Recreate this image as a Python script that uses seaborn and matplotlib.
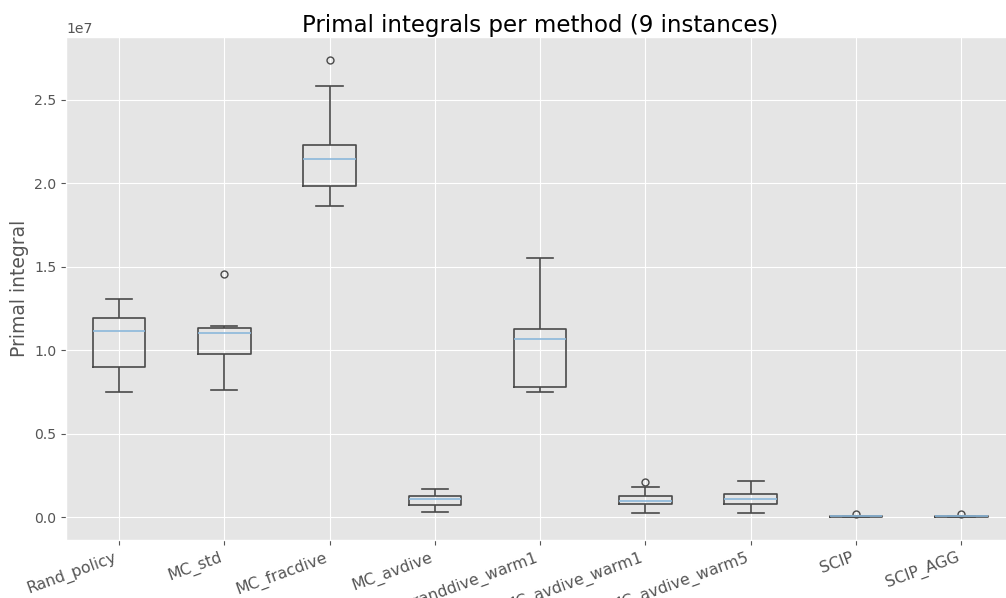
import numpy as np
import pandas as pd
import matplotlib
matplotlib.use("Agg")
import matplotlib.pyplot as plt
import seaborn as sns

# Primal integral per instance (9 instances)
methods = ["Rand_policy", "MC_std", "MC_fracdive", "MC_avdive", "MC_randdive_warm1",
           "MC_avdive_warm1", "MC_avdive_warm5", "SCIP", "SCIP_AGG"]
rand_policy = [7.49e6, 8.5e6, 8.99e6, 1.00e7, 1.117e7, 1.15e7, 1.196e7, 1.25e7, 1.31e7]
mc_std = [7.60e6, 9.5e6, 9.80e6, 1.05e7, 1.106e7, 1.12e7, 1.136e7, 1.148e7, 1.455e7]
mc_fracdive = [1.866e7, 1.95e7, 1.982e7, 2.05e7, 2.145e7, 2.20e7, 2.229e7, 2.58e7, 2.737e7]
mc_avdive = [3.4e5, 5.0e5, 7.4e5, 9.0e5, 1.10e6, 1.20e6, 1.27e6, 1.50e6, 1.72e6]
mc_randdive_warm1 = [7.52e6, 7.65e6, 7.78e6, 9.5e6, 1.066e7, 1.10e7, 1.126e7, 1.30e7, 1.555e7]
mc_avdive_warm1 = [2.8e5, 6.0e5, 8.0e5, 9.0e5, 1.00e6, 1.20e6, 1.30e6, 1.81e6, 2.14e6]
mc_avdive_warm5 = [2.4e5, 5.0e5, 7.8e5, 9.5e5, 1.10e6, 1.25e6, 1.42e6, 1.80e6, 2.15e6]
scip = [1e4, 2e4, 3e4, 4e4, 5e4, 6e4, 7e4, 8e4, 2.0e5]
scip_agg = [1e4, 2e4, 3e4, 4e4, 5e4, 6e4, 7e4, 8e4, 1.8e5]

series = [rand_policy, mc_std, mc_fracdive, mc_avdive, mc_randdive_warm1,
          mc_avdive_warm1, mc_avdive_warm5, scip, scip_agg]
df = pd.DataFrame({
    "method": np.repeat(methods, [len(s) for s in series]),
    "value": np.concatenate(series),
})

plt.style.use("ggplot")

fig = plt.figure(figsize=(10.06, 5.98), dpi=100)
ax = fig.add_axes([0.0659, 0.097, 1.008 - 0.0659, 0.9376 - 0.097])

box_col = "#4a4a4a"
sns.boxplot(data=df, x="method", y="value", order=methods, ax=ax,
            fill=False, color=box_col, width=0.5, whis=1.5, linewidth=1.2,
            medianprops=dict(color="#8cb8db", linewidth=1.2),
            flierprops=dict(marker="o", markersize=5, markerfacecolor="none",
                            markeredgecolor=box_col, markeredgewidth=1.0))

ax.xaxis.grid(True)
ax.set_axisbelow(True)
ax.set_xlabel("")
ax.set_ylabel("Primal integral", fontsize=13.5, color="#555555")
ax.set_title("Primal integrals per method (9 instances)", fontsize=16.5, pad=3)
ax.tick_params(axis="y", labelsize=10.1, colors="#555555")
ax.tick_params(axis="x", labelsize=11.3, colors="#555555")
ax.yaxis.get_offset_text().set_fontsize(10.1)
plt.setp(ax.get_xticklabels(), rotation=20, ha="right")

fig.savefig("out.png", dpi=100)
